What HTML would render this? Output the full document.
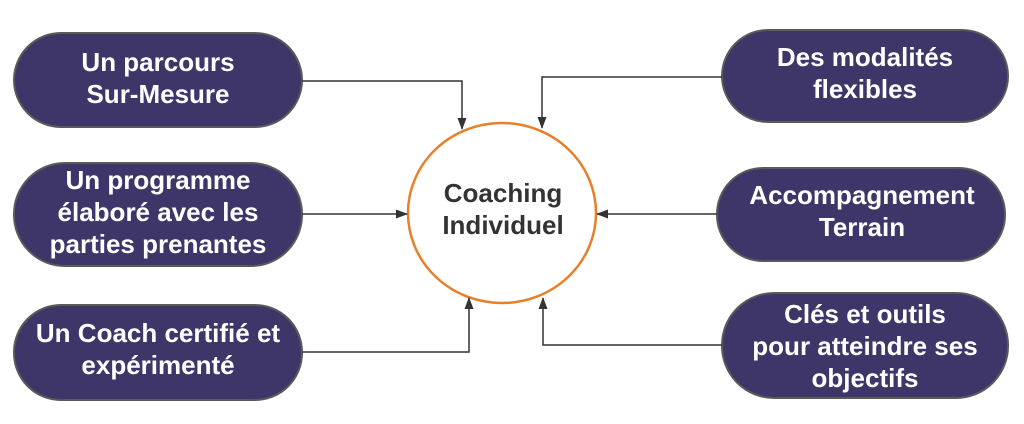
<!DOCTYPE html>
<html><head><meta charset="utf-8"><style>
html,body{margin:0;padding:0;background:#fff;}
svg{display:block;}
text{font-family:"Liberation Sans",sans-serif;font-weight:bold;font-size:26px;text-anchor:middle;}
.p{fill:#3e3669;stroke:#5a5a5a;stroke-width:2;}
.w{fill:#fff;}
.l{stroke:#333;stroke-width:1.5;fill:none;}
</style></head><body>
<svg width="1024" height="424" viewBox="0 0 1024 424" xmlns="http://www.w3.org/2000/svg">
<defs><marker id="a" markerWidth="12" markerHeight="12" refX="11" refY="6" orient="auto" markerUnits="userSpaceOnUse"><path d="M0,1.5 L12,6 L0,10.5 Z" fill="#333"/></marker></defs>
<rect class="p" x="14" y="33" width="288" height="94" rx="47"/>
<rect class="p" x="14" y="163" width="288" height="103" rx="51"/>
<rect class="p" x="14" y="305" width="288" height="95" rx="47"/>
<rect class="p" x="722" y="30" width="286" height="92" rx="46"/>
<rect class="p" x="717" y="168" width="288" height="93" rx="46"/>
<rect class="p" x="722" y="293" width="286" height="105" rx="52"/>
<ellipse cx="502" cy="213" rx="94" ry="90" fill="#fff" stroke="#e8802a" stroke-width="2.5"/>
<path class="l" d="M302,81 H462 V129" marker-end="url(#a)"/>
<path class="l" d="M302,214 H407" marker-end="url(#a)"/>
<path class="l" d="M302,352 H469 V298" marker-end="url(#a)"/>
<path class="l" d="M722,77 H542 V128" marker-end="url(#a)"/>
<path class="l" d="M717,214 H597" marker-end="url(#a)"/>
<path class="l" d="M722,345 H543 V298" marker-end="url(#a)"/>
<text class="w" x="158" y="71">Un parcours</text>
<text class="w" x="158" y="103">Sur-Mesure</text>
<text class="w" x="158" y="189">Un programme</text>
<text class="w" x="158" y="221">élaboré avec les</text>
<text class="w" x="158" y="253">parties prenantes</text>
<text class="w" x="158" y="342">Un Coach certifié et</text>
<text class="w" x="158" y="374">expérimenté</text>
<text class="w" x="865" y="66">Des modalités</text>
<text class="w" x="865" y="98">flexibles</text>
<text class="w" x="862" y="204">Accompagnement</text>
<text class="w" x="862" y="236">Terrain</text>
<text class="w" x="865" y="323">Clés et outils</text>
<text class="w" x="865" y="355">pour atteindre ses</text>
<text class="w" x="865" y="387">objectifs</text>
<text fill="#333" x="503" y="202">Coaching</text>
<text fill="#333" x="503" y="234">Individuel</text>
</svg>
</body></html>
